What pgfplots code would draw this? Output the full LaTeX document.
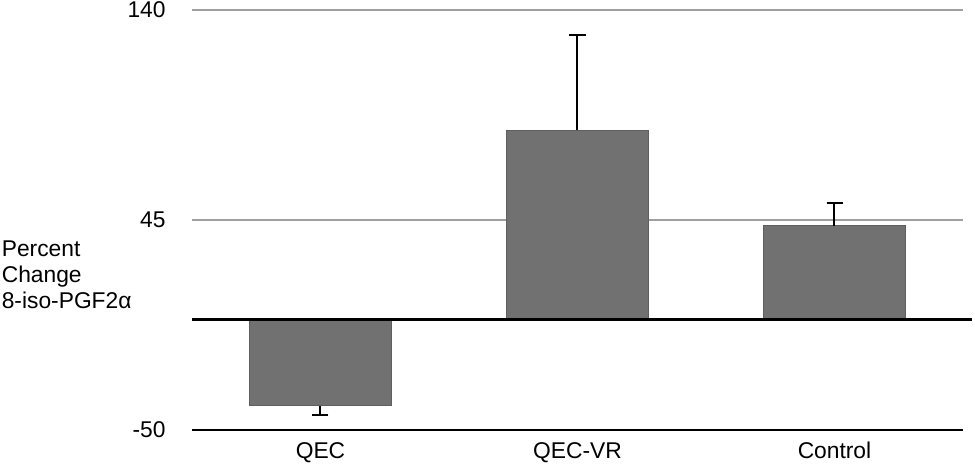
\documentclass[border=0pt]{standalone}
\usepackage{pgfplots}
\pgfplotsset{compat=1.18}
\usepackage{fontspec}
\setmainfont{Liberation Sans}
\definecolor{barfill}{RGB}{113,113,113}
\definecolor{barline}{RGB}{95,95,95}
\definecolor{gridc}{RGB}{160,160,160}
\begin{document}
\fontsize{11.4}{13.5}\selectfont
\begin{tikzpicture}
\begin{axis}[
 name=ax,
 scale only axis,
 width=385.5pt, height=210pt,
 xmin=-0.5, xmax=2.5, ymin=-50, ymax=140,
 ytick={-50,45,140},
 xtick={0,1,2},
 xticklabels={QEC,QEC-VR,Control},
 ymajorgrids, grid style={gridc, line width=0.6pt},
 axis line style={draw=none},
 major tick length=0pt,
 tick style={draw=none},
 yticklabel style={anchor=east, inner sep=0pt, xshift=-13pt},
 xticklabel style={anchor=base, inner sep=0pt, yshift=-14.5pt},
 /pgf/number format/assume math mode=true,
 ticklabel style={font=\fontsize{11.4}{13.5}\selectfont},
 clip=false,
 ybar, bar width=70.75pt,
]
\addplot[fill=barfill, draw=barline, line width=0.5pt, bar shift=0pt,
  error bars/.cd, y dir=plus, y explicit, error mark=|,
  error bar style={black, line width=1pt},
  error mark options={black, line width=1pt, mark size=4pt}]
  coordinates {(1,85.7) +- (0,43.1) (2,42.4) +- (0,10.3)};
\addplot[fill=barfill, draw=barline, line width=0.5pt, bar shift=0pt,
  error bars/.cd, y dir=minus, y explicit, error mark=|,
  error bar style={black, line width=1pt},
  error mark options={black, line width=1pt, mark size=4pt}]
  coordinates {(0,-39.1) +- (0,4.1)};
\draw[line width=1pt] (axis cs:-0.5,-50) -- (axis cs:2.5,-50);
\draw[line width=1.8pt] (axis cs:-0.5,0) -- ([xshift=4.5pt]axis cs:2.5,0);
\end{axis}
\node[anchor=base west, inner sep=0pt] at ([xshift=-95.3pt, yshift=86.65pt]ax.south west) {Percent};
\node[anchor=base west, inner sep=0pt] at ([xshift=-95.3pt, yshift=73.65pt]ax.south west) {Change};
\node[anchor=base west, inner sep=0pt] at ([xshift=-95.3pt, yshift=60.85pt]ax.south west) {8-iso-PGF2α};
\pgfresetboundingbox
\path[use as bounding box] ([xshift=-96pt,yshift=-17pt]ax.south west) rectangle ([xshift=391.5pt,yshift=215pt]ax.south west);
\end{tikzpicture}
\end{document}
